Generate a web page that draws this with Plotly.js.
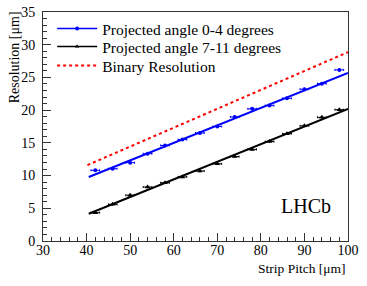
<!DOCTYPE html>
<html><head><meta charset="utf-8">
<script src="https://cdn.plot.ly/plotly-3.0.1.min.js"></script>
<style>html,body{margin:0;padding:0;background:#fff}#c{width:367px;height:286px}</style>
</head><body><div id="c"></div>
<script>
const pitch = [42,46,50,54,58,62,66,70,74,78,82,86,90,94,98];
const resLow = [10.8,11.05,11.97,13.35,14.6,15.5,16.5,17.5,18.96,20.2,20.7,21.8,23.2,24.05,26.15];
const resHigh = [4.33,5.6,7.0,8.25,8.9,9.8,10.7,11.8,12.9,14.0,15.2,16.4,17.6,18.9,20.07];
const pitchErr = [1,1,1,1,1,1,1,1,1,1,1,1,1,1,1];
const resErr = [0.2,0.2,0.2,0.2,0.2,0.2,0.2,0.2,0.2,0.2,0.2,0.2,0.2,0.2,0.2];
const fitX = [40.5, 100];
const fitLow = [9.78, 25.7];
const fitHigh = [4.17, 20.2];
const binX = [40.2, 100];
const binRes = [11.6, 28.87];
const legendNames = ["Projected angle 0-4 degrees","Projected angle 7-11 degrees","Binary Resolution"];

const serif = "'Liberation Serif', 'Times New Roman', Times, serif";
const traces = [
  {x: fitX, y: fitLow, mode:'lines', line:{color:'#0000ff', width:2}, showlegend:false, hoverinfo:'skip'},
  {x: fitX, y: fitHigh, mode:'lines', line:{color:'#000000', width:2}, showlegend:false, hoverinfo:'skip'},
  {x: binX, y: binRes, mode:'lines', line:{color:'#ff0000', width:2, dash:'dot'}, showlegend:false},
  {x: pitch, y: resLow, mode:'markers', marker:{color:'#0000ff', size:4, symbol:'circle'},
   error_x:{type:'data', array: pitchErr, color:'#0000ff', thickness:1, width:1},
   error_y:{type:'data', array: resErr, color:'#0000ff', thickness:1, width:0}, showlegend:false},
  {x: pitch, y: resHigh, mode:'markers', marker:{color:'#000000', size:5, symbol:'triangle-up'},
   error_x:{type:'data', array: pitchErr, color:'#000000', thickness:1, width:1},
   error_y:{type:'data', array: resErr, color:'#000000', thickness:1, width:0}, showlegend:false},
  {x:[null], y:[null], mode:'lines+markers', name: legendNames[0], legend:'legend', line:{color:'#0000ff', width:1.5}, marker:{color:'#0000ff', size:4}},
  {x:[null], y:[null], mode:'lines+markers', name: legendNames[1], legend:'legend2', line:{color:'#000000', width:1.5}, marker:{color:'#000000', size:4, symbol:'triangle-up'}},
  {x:[null], y:[null], mode:'lines', name: legendNames[2], legend:'legend3', line:{color:'#ff0000', width:2, dash:'dot'}}
];

function leg(y){
  return {x:0.03, y:y, xanchor:'left', yanchor:'middle', bgcolor:'rgba(0,0,0,0)', borderwidth:0,
          font:{family: serif, size:15.5}, itemwidth:40};
}

const layout = {
  width:367, height:286,
  margin:{l:43, r:19, t:12, b:45},
  paper_bgcolor:'#fff', plot_bgcolor:'#fff',
  font:{family: serif, size:14, color:'#000'},
  showlegend:true,
  legend: leg(0.926),
  legend2: leg(0.847),
  legend3: leg(0.764),
  xaxis:{range:[30,100], showgrid:false, zeroline:false, showline:true, linecolor:'#333', linewidth:1, mirror:true,
         ticks:'inside', ticklen:8, tickcolor:'#333', dtick:10, tick0:30, ticklabelstandoff:-4,
         minor:{dtick:2, ticks:'inside', ticklen:4, tickcolor:'#333'},
         tickfont:{family: serif, size:14}},
  yaxis:{range:[0,35], showgrid:false, zeroline:false, showline:true, linecolor:'#333', linewidth:1, mirror:true,
         ticks:'inside', ticklen:8, tickcolor:'#333', dtick:5, tick0:0, ticklabelstandoff:4,
         minor:{dtick:1, ticks:'inside', ticklen:4, tickcolor:'#333'},
         tickfont:{family: serif, size:14}},
  annotations:[
    {text:'Strip Pitch [μm]', xref:'paper', yref:'paper', x:1, y:-0.077, xanchor:'right', yanchor:'top', showarrow:false, font:{family: serif, size:13.5}},
    {text:'Resolution [μm]', xref:'paper', yref:'paper', x:-0.062, y:1.01, xanchor:'right', yanchor:'top', textangle:-90, showarrow:false, font:{family: serif, size:14}},
    {text:'LHCb', xref:'x', yref:'y', x:84.2, y:3.3, xanchor:'left', yanchor:'bottom', showarrow:false, font:{family: serif, size:20}}
  ]
};
Plotly.newPlot('c', traces, layout, {staticPlot:true, displayModeBar:false});
</script></body></html>
